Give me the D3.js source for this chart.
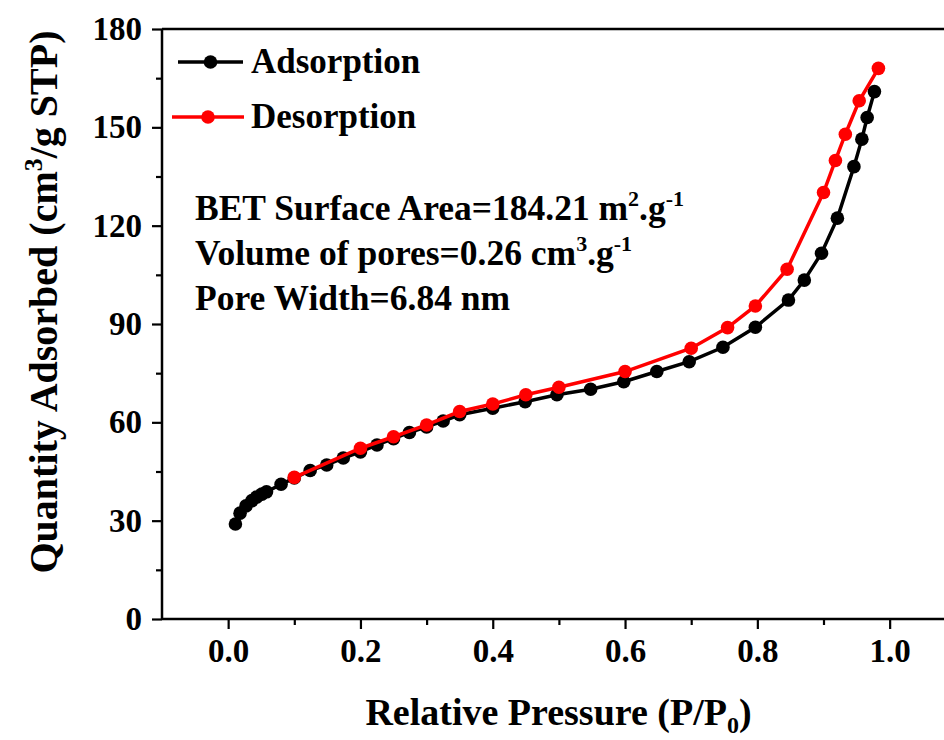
<!DOCTYPE html>
<html>
<head>
<meta charset="utf-8">
<script src="https://cdn.jsdelivr.net/npm/d3@7/dist/d3.min.js"></script>
<style>
  html, body { margin: 0; padding: 0; background: #ffffff; }
  svg { display: block; }
  text { font-family: "Liberation Serif", "Times New Roman", serif; font-weight: bold; fill: #000; }
</style>
</head>
<body>
<div id="chart"></div>
<script>
// ---- Data ----
const adsP = [0.011, 0.018, 0.027, 0.036, 0.043, 0.051, 0.058, 0.080, 0.100, 0.124, 0.149, 0.174, 0.200, 0.225, 0.250, 0.274, 0.300, 0.325, 0.350, 0.400, 0.449, 0.497, 0.548, 0.598, 0.648, 0.697, 0.748, 0.797, 0.847, 0.871, 0.897, 0.921, 0.946, 0.958, 0.966, 0.977];
const adsQ = [29.0, 32.3, 34.5, 36.1, 37.2, 38.1, 38.8, 41.1, 43.0, 45.3, 47.0, 49.1, 51.0, 53.1, 55.0, 56.9, 58.6, 60.4, 62.3, 64.3, 66.3, 68.4, 70.1, 72.4, 75.5, 78.5, 82.9, 89.0, 97.3, 103.4, 111.6, 122.3, 138.0, 146.4, 153.0, 160.9];
const desP = [0.100, 0.200, 0.250, 0.300, 0.350, 0.400, 0.450, 0.500, 0.600, 0.700, 0.755, 0.797, 0.845, 0.900, 0.918, 0.933, 0.954, 0.983];
const desQ = [43.2, 52.1, 55.6, 59.2, 63.3, 65.6, 68.4, 70.7, 75.5, 82.6, 88.9, 95.5, 106.7, 130.1, 139.9, 147.9, 158.1, 168.0];
const seriesNames = ["Adsorption", "Desorption"];
const seriesColors = ["#000000", "#ff0000"];
const xTicks = [0.0, 0.2, 0.4, 0.6, 0.8, 1.0];
const xMinorTicks = [0.1, 0.3, 0.5, 0.7, 0.9];
const yTicks = [0, 30, 60, 90, 120, 150, 180];
const yMinorTicks = [15, 45, 75, 105, 135, 165];
const annotations = [
  ["BET Surface Area=184.21 m", "2", ".g", "-1"],
  ["Volume of pores=0.26 cm", "3", ".g", "-1"],
  ["Pore Width=6.84 nm"]
];

// ---- Layout ----
const W = 944, H = 740;
const plotLeft = 162, plotTop = 29, plotBottom = 619;
const x = d3.scaleLinear().domain([-0.1, 1.1]).range([plotLeft, plotLeft + 1.2 * 661.5]);
const y = d3.scaleLinear().domain([0, 180]).range([plotBottom, plotTop]);

const svg = d3.select("#chart").append("svg").attr("width", W).attr("height", H);
svg.append("rect").attr("width", W).attr("height", H).attr("fill", "#ffffff");

// Axes
const xAxis = d3.axisBottom(x).tickValues(xTicks).tickFormat(d3.format(".1f")).tickSize(10).tickPadding(10);
const xMinor = d3.axisBottom(x).tickValues(xMinorTicks).tickFormat("").tickSize(6);
const yAxis = d3.axisLeft(y).tickValues(yTicks).tickFormat(d3.format("d")).tickSize(10).tickPadding(10);
const yMinor = d3.axisLeft(y).tickValues(yMinorTicks).tickFormat("").tickSize(6);

function styleAxis(g) {
  g.select(".domain").remove();
  g.selectAll(".tick line").attr("stroke", "#000").attr("stroke-width", 2.2);
  g.selectAll(".tick text").style("font-size", "33px").style("font-family", "'Liberation Serif', serif").style("font-weight", "bold").attr("fill", "#000");
}
svg.append("g").attr("transform", `translate(0,${plotBottom})`).call(xAxis).call(styleAxis);
svg.append("g").attr("transform", `translate(0,${plotBottom})`).call(xMinor).call(styleAxis);
svg.append("g").attr("transform", `translate(${plotLeft},0)`).call(yAxis).call(styleAxis);
svg.append("g").attr("transform", `translate(${plotLeft},0)`).call(yMinor).call(styleAxis);

// Frame lines
svg.append("line").attr("x1", plotLeft).attr("x2", W + 20).attr("y1", plotBottom).attr("y2", plotBottom).attr("stroke", "#000").attr("stroke-width", 2.5);
svg.append("line").attr("x1", plotLeft).attr("x2", W + 20).attr("y1", plotTop).attr("y2", plotTop).attr("stroke", "#000").attr("stroke-width", 2.5);
svg.append("line").attr("x1", plotLeft).attr("x2", plotLeft).attr("y1", plotTop).attr("y2", plotBottom).attr("stroke", "#000").attr("stroke-width", 2.5);

// Series
const series = [
  { P: adsP, Q: adsQ },
  { P: desP, Q: desQ }
];
const line = d3.line().x(d => x(d[0])).y(d => y(d[1]));
series.forEach((s, i) => {
  const pts = s.P.map((p, j) => [p, s.Q[j]]);
  const g = svg.append("g");
  g.append("path").attr("d", line(pts)).attr("fill", "none").attr("stroke", seriesColors[i]).attr("stroke-width", 3.5);
  g.selectAll("circle").data(pts).enter().append("circle")
    .attr("cx", d => x(d[0])).attr("cy", d => y(d[1])).attr("r", 6.8).attr("fill", seriesColors[i]);
});

// Legend
const legendY = [62, 117];
const legendLine = [[178, 243], [172, 244]];
seriesNames.forEach((name, i) => {
  const g = svg.append("g");
  g.append("line").attr("x1", legendLine[i][0]).attr("x2", legendLine[i][1]).attr("y1", legendY[i]).attr("y2", legendY[i])
    .attr("stroke", seriesColors[i]).attr("stroke-width", 3.5);
  g.append("circle").attr("cx", (legendLine[i][0] + legendLine[i][1]) / 2).attr("cy", legendY[i]).attr("r", 6.8).attr("fill", seriesColors[i]);
  g.append("text").attr("x", 251).attr("y", legendY[i] + 11).style("font-size", "35px").text(name);
});

// Annotation text
const annY = [220, 265, 310];
annotations.forEach((parts, i) => {
  const t = svg.append("text").attr("x", 195).attr("y", annY[i]).style("font-size", "35.5px");
  parts.forEach((p, k) => {
    const ts = t.append("tspan").text(p);
    if (k === 1 || k === 3) ts.style("font-size", "22px").attr("dy", -14);
    if (k === 2) ts.attr("dy", 14);
  });
});

// Axis titles
const xt = svg.append("text").attr("x", (plotLeft + 955) / 2).attr("y", 725).attr("text-anchor", "middle").style("font-size", "38px");
xt.append("tspan").text("Relative Pressure (P/P");
xt.append("tspan").text("0").style("font-size", "24px").attr("dy", 8);
xt.append("tspan").text(")").attr("dy", -8);

const yt = svg.append("text").attr("transform", `translate(57,302) rotate(-90)`).attr("text-anchor", "middle").style("font-size", "40px");
yt.append("tspan").text("Quantity Adsorbed (cm");
yt.append("tspan").text("3").style("font-size", "26px").attr("dy", -15);
yt.append("tspan").text("/g STP)").attr("dy", 15);
</script>
</body>
</html>
